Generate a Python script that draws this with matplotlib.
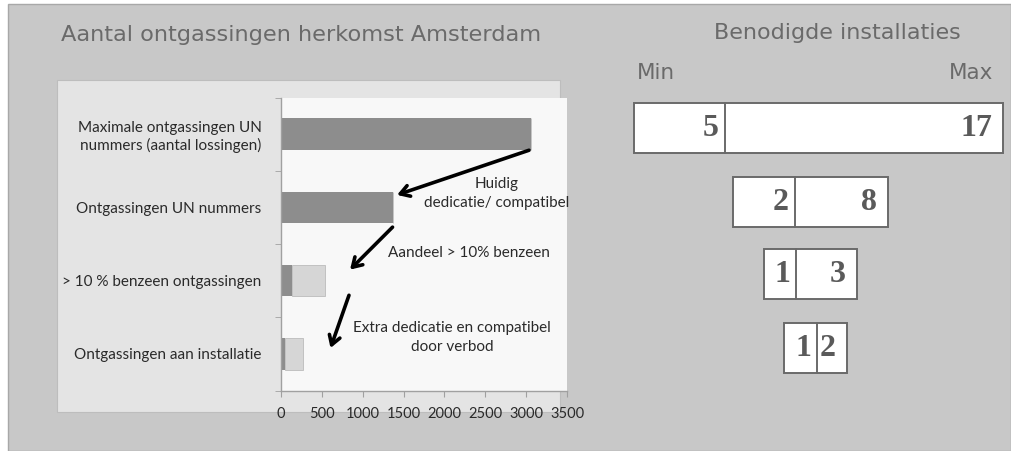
import matplotlib
matplotlib.use("Agg")
import matplotlib.pyplot as plt
from matplotlib.patches import Rectangle

# ---------------- data ----------------
categories = [
    "Maximale ontgassingen UN\nnummers (aantal lossingen)",
    "Ontgassingen UN nummers",
    "> 10 % benzeen ontgassingen",
    "Ontgassingen aan installatie",
]
dark_values = [3060, 1370, 135, 55]
light_values = [0, 0, 405, 215]
x_ticks = [0, 500, 1000, 1500, 2000, 2500, 3000, 3500]

min_installs = [5, 2, 1, 1]
max_installs = [17, 8, 3, 2]

title_left = "Aantal ontgassingen herkomst Amsterdam"
title_right = "Benodigde installaties"
annot_texts = ["Huidig\ndedicatie/ compatibel", "Aandeel > 10% benzeen",
               "Extra dedicatie en compatibel\ndoor verbod"]

# ---------------- layout (pixels) ----------------
W, H = 1011, 451
box_left = [634, 733, 764, 784]
box_div = [725, 795, 796, 817]
box_right = [1003, 888, 857, 847]
box_top = [103, 177, 249, 323]
box_h = 50

fig = plt.figure(figsize=(W / 100, H / 100), dpi=100)
fig.patch.set_facecolor("white")

bg = fig.add_axes([0, 0, 1, 1], zorder=0)
bg.set_xlim(0, W)
bg.set_ylim(H, 0)
bg.axis("off")

# outer gray panel
bg.add_patch(Rectangle((8, 4), W - 8, H - 4, facecolor="#c8c8c8",
                       edgecolor="#a8a8a8", lw=1.0))
# inner light chart panel
bg.add_patch(Rectangle((57, 80), 503, 332, facecolor="#e4e4e4",
                       edgecolor="#bdbdbd", lw=0.8))

title_color = "#6a6a6a"
bg.text(61, 35, title_left, fontsize=16.2, color=title_color,
        family="DejaVu Sans", ha="left", va="center")
bg.text(837, 33, title_right, fontsize=16, color=title_color,
        family="DejaVu Sans", ha="center", va="center")
bg.text(637, 73, "Min", fontsize=15.5, color=title_color,
        family="DejaVu Sans", ha="left", va="center")
bg.text(993, 73, "Max", fontsize=15.5, color=title_color,
        family="DejaVu Sans", ha="right", va="center")

# installation boxes
for i in range(len(min_installs)):
    t = box_top[i]
    bg.add_patch(Rectangle((box_left[i], t), box_right[i] - box_left[i], box_h,
                           facecolor="white", edgecolor="#6a6a6a", lw=1.4))
    bg.plot([box_div[i], box_div[i]], [t, t + box_h], color="#6a6a6a", lw=1.4)
    cy = t + box_h / 2 + 1
    bg.text(box_div[i] - 6, cy, str(min_installs[i]), fontsize=23,
            family="Liberation Serif", weight="bold", color="#5a5a5a",
            ha="right", va="center")
    bg.text(box_right[i] - 11, cy, str(max_installs[i]), fontsize=23,
            family="Liberation Serif", weight="bold", color="#5a5a5a",
            ha="right", va="center")

# ---------------- bar chart ----------------
x0, x1 = 281, 567
ytop, ybot = 97.5, 390.5
ax = fig.add_axes([x0 / W, (H - ybot) / H, (x1 - x0) / W, (ybot - ytop) / H],
                  zorder=1)
ax.set_facecolor("#f8f8f8")
ypos = list(range(len(categories)))
ax.barh(ypos, dark_values, height=0.43, color="#8d8d8d", edgecolor="none")
ax.barh(ypos, light_values, left=dark_values, height=0.43, color="#d6d6d6",
        edgecolor="#bcbcbc", lw=0.6)
ax.set_xlim(0, 3500)
ax.set_ylim(3.5, -0.5)
ax.set_yticks(ypos)
ax.set_yticklabels(categories, fontsize=11, family="Lato", color="#2a2a2a",
                   linespacing=1.25)
ax.set_yticks([-0.5, 0.5, 1.5, 2.5, 3.5], minor=True)
ax.tick_params(axis="y", which="major", length=0, pad=14)
ax.tick_params(axis="y", which="minor", length=4, color="#a0a0a0")
ax.set_xticks(x_ticks)
ax.set_xticklabels([str(v) for v in x_ticks], fontsize=10.5, family="Lato",
                   color="#2a2a2a")
ax.tick_params(axis="x", length=4, color="#a0a0a0", pad=8)
for s in ["top", "right"]:
    ax.spines[s].set_visible(False)
for s in ["left", "bottom"]:
    ax.spines[s].set_color("#a0a0a0")
    ax.spines[s].set_linewidth(1.0)

arrow_kw = dict(arrowstyle="->, head_length=0.65, head_width=0.4",
                color="black", lw=2.6, shrinkA=0, shrinkB=0)
arrows = [((3035, 0.22), (1420, 0.83)),
          ((1365, 1.27), (845, 1.85)),
          ((832, 2.20), (606, 2.92))]
for (xs, ys), (xe, ye) in arrows:
    ax.annotate("", xy=(xe, ye), xytext=(xs, ys), arrowprops=arrow_kw,
                annotation_clip=False)

text_pos = [(2643, 0.81), (2301, 1.62), (2093, 2.78)]
for (tx, ty), s in zip(text_pos, annot_texts):
    ax.text(tx, ty, s, fontsize=11, family="Lato", color="#2a2a2a",
            ha="center", va="center", multialignment="center",
            linespacing=1.45, clip_on=False)

fig.savefig("out.png", dpi=100, facecolor=fig.get_facecolor())
